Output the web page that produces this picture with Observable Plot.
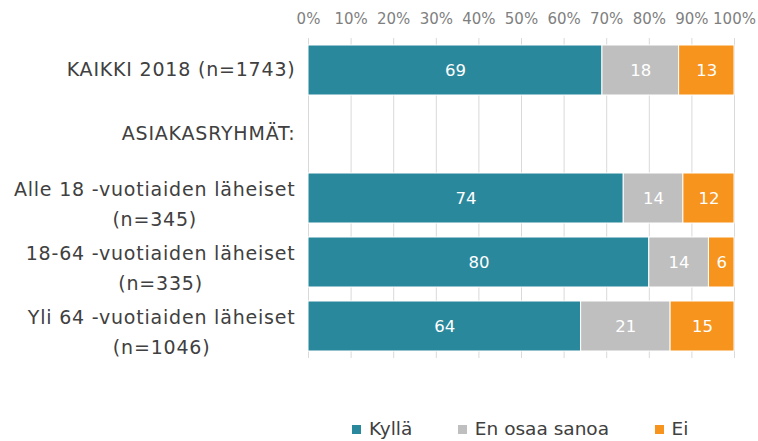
<!DOCTYPE html>
<html><head><meta charset="utf-8">
<script src="https://cdn.jsdelivr.net/npm/d3@7"></script>
<script src="https://cdn.jsdelivr.net/npm/@observablehq/plot@0.6"></script>
<style>
html,body{margin:0;padding:0;background:#fff;overflow:hidden;}
#wrap{position:relative;width:758px;height:441px;overflow:hidden;}
#legend{position:absolute;left:352px;top:419px;display:flex;font-family:"DejaVu Sans";font-size:18.5px;line-height:20px;color:#404040;white-space:nowrap;}
.item{display:flex;align-items:center;margin-right:45.5px;}
.sw{width:9px;height:9px;margin-right:8px;}
</style></head><body>
<div id="wrap"><div id="chart"></div><div id="legend"></div></div>
<script>
const categories = [
  "KAIKKI 2018 (n=1743)",
  "ASIAKASRYHMÄT:",
  "Alle 18 -vuotiaiden läheiset\n(n=345)",
  "18-64 -vuotiaiden läheiset\n(n=335)",
  "Yli 64 -vuotiaiden läheiset\n(n=1046)"
];
const responses = ["Kyllä", "En osaa sanoa", "Ei"];
const colors = ["#2a889d", "#bfbfbf", "#f7941d"];
const kylla = [69, null, 74, 80, 64];
const enOsaaSanoa = [18, null, 14, 14, 21];
const ei = [13, null, 12, 6, 15];
const xTicks = [0, 10, 20, 30, 40, 50, 60, 70, 80, 90, 100];

const series = [kylla, enOsaaSanoa, ei];
const rows = [];
categories.forEach((c, i) => {
  responses.forEach((r, j) => {
    const v = series[j][i];
    if (v != null) rows.push({category: c, response: r, value: v});
  });
});
const singleLabels = categories.filter(c => !c.includes("\n"));
const doubleLabels = categories.filter(c => c.includes("\n"));

const chart = Plot.plot({
  width: 758,
  height: 410,
  marginLeft: 308,
  marginRight: 24,
  marginTop: 38,
  marginBottom: 52,
  style: {fontFamily: "DejaVu Sans", background: "white"},
  x: {domain: [0, 100], axis: null},
  y: {domain: categories, paddingInner: 0.22, paddingOuter: 0.11, axis: null},
  color: {domain: responses, range: colors},
  marks: [
    Plot.gridX(xTicks, {stroke: "#d9d9d9", strokeOpacity: 1, strokeWidth: 1}),
    Plot.axisX(xTicks, {anchor: "top", label: null, tickSize: 0, tickPadding: 15, tickFormat: d => d + "%", fontSize: 15, color: "#7f7f7f"}),
    Plot.barX(rows, Plot.stackX({x: "value", y: "category", fill: "response", order: responses, stroke: "white", strokeWidth: 1})),
    Plot.text(rows, Plot.stackX({x: "value", y: "category", z: "response", order: responses, text: d => String(d.value), fill: "white", fontSize: 16.5})),
    Plot.text(singleLabels, {y: d => d, text: d => d, frameAnchor: "left", dx: -13, dy: -1, textAnchor: "end", fontSize: 19, fill: "#404040"}),
    Plot.text(doubleLabels, {y: d => d, text: d => d, frameAnchor: "left", dx: -13, dy: 3, textAnchor: "end", lineHeight: 1.6, fontSize: 19, fill: "#404040"})
  ]
});
document.getElementById("chart").appendChild(chart);

// letter spacing for category labels, and centre the second line under the first (as in the original)
const flat = categories.map(c => c.replace("\n", ""));
chart.querySelectorAll("text").forEach(t => {
  if (!flat.includes(t.textContent)) return;
  t.setAttribute("letter-spacing", "0.8px");
  const tspans = t.querySelectorAll("tspan");
  if (tspans.length < 2) return;
  let w = 0;
  tspans.forEach(s => { w = Math.max(w, s.getComputedTextLength()); });
  t.setAttribute("text-anchor", "middle");
  tspans.forEach(s => s.setAttribute("x", -w / 2));
});

const legend = document.getElementById("legend");
responses.forEach((r, i) => {
  const item = document.createElement("div");
  item.className = "item";
  const sw = document.createElement("div");
  sw.className = "sw";
  sw.style.background = colors[i];
  const label = document.createElement("span");
  label.textContent = r;
  item.appendChild(sw);
  item.appendChild(label);
  legend.appendChild(item);
});
</script>
</body></html>
